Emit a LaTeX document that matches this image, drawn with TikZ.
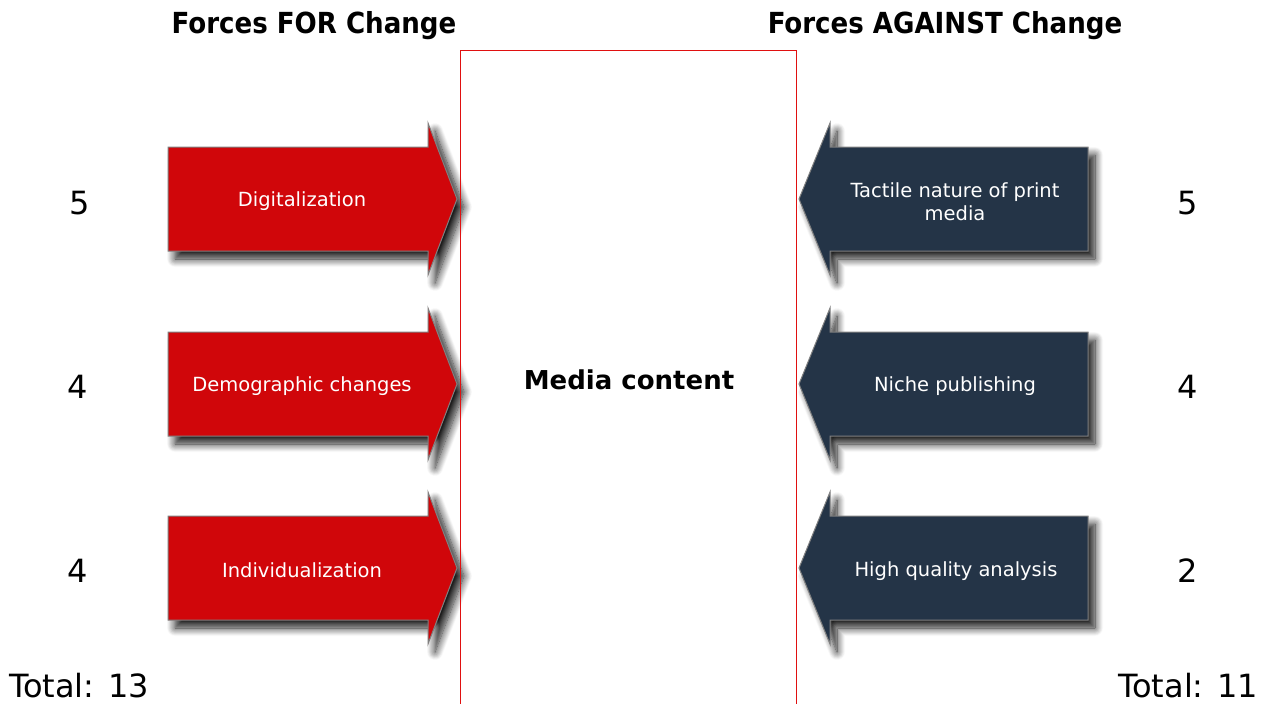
\documentclass[tikz,border=0pt]{standalone}
\usepackage{fontspec}
\setmainfont{DejaVu Sans}
\newfontfamily\headfont{DejaVu Sans Condensed}
\usepackage{xcolor}
\usetikzlibrary{shadows.blur}

\definecolor{forred}{HTML}{D0060A}
\definecolor{againstblue}{HTML}{243447}
\definecolor{fieldred}{HTML}{E01010}

\tikzset{
  forarrow/.style={fill=forred, draw=gray, line width=1pt,
    blur shadow={shadow xshift=7pt, shadow yshift=-8pt, shadow blur radius=8pt, shadow blur steps=12, shadow opacity=90}},
  againstarrow/.style={fill=againstblue, draw=gray, line width=1pt,
    blur shadow={shadow xshift=7pt, shadow yshift=-8pt, shadow blur radius=8pt, shadow blur steps=12, shadow opacity=90}},
  boxtext/.style={text=white, font=\fontsize{19.5}{23}\selectfont, align=center},
  score/.style={font=\fontsize{32}{38}\selectfont},
  heading/.style={font=\headfont\bfseries\fontsize{29}{34}\selectfont}
}

\begin{document}
\begin{tikzpicture}[x=1pt, y=-1pt]
\useasboundingbox (0,0) rectangle (1269,704);

% headings
\node[heading] (forhead) at (314,26) {Forces FOR Change};
\node[heading] (againsthead) at (945,26) {Forces AGAINST Change};

% forces for change
\path[forarrow] (168,147) -- (428,147) -- (428,123) -- (457,199) -- (428,275) -- (428,251) -- (168,251) -- cycle;
\path[forarrow] (168,332) -- (428,332) -- (428,308) -- (457,384) -- (428,460) -- (428,436) -- (168,436) -- cycle;
\path[forarrow] (168,516) -- (428,516) -- (428,492) -- (457,568) -- (428,644) -- (428,620) -- (168,620) -- cycle;
\node[boxtext] (dig) at (302,201) {Digitalization};
\node[boxtext] (demo) at (302,386) {Demographic changes};
\node[boxtext] (indiv) at (302,570) {Individualization};

% forces against change
\path[againstarrow] (1088,147) -- (830,147) -- (830,123) -- (799,199) -- (830,275) -- (830,251) -- (1088,251) -- cycle;
\path[againstarrow] (1088,332) -- (830,332) -- (830,308) -- (799,384) -- (830,460) -- (830,436) -- (1088,436) -- cycle;
\path[againstarrow] (1088,516) -- (830,516) -- (830,492) -- (799,568) -- (830,644) -- (830,620) -- (1088,620) -- cycle;
\node[boxtext] (tactile) at (955,202) {Tactile nature of print\\media};
\node[boxtext] (niche) at (955,386) {Niche publishing};
\node[boxtext] (quality) at (956,571) {High quality analysis};

% field
\draw[fieldred, line width=1pt] (460,704) -- (460,50) -- (796,50) -- (796,704);
\node[font=\bfseries\fontsize{26}{31}\selectfont] (media) at (629,380) {Media content};

% scores
\node[score] (s1) at (80,203) {5};
\node[score] (s2) at (78,387) {4};
\node[score] (s3) at (78,571) {4};
\node[score] (t1) at (1188,203) {5};
\node[score] (t2) at (1188,387) {4};
\node[score] (t3) at (1188,571) {2};
\node[score, inner sep=0pt] (fortotal) at (79,686) {Total: 13};
\node[score, inner sep=0pt] (againsttotal) at (1188,686) {Total: 11};
\end{tikzpicture}
\end{document}
